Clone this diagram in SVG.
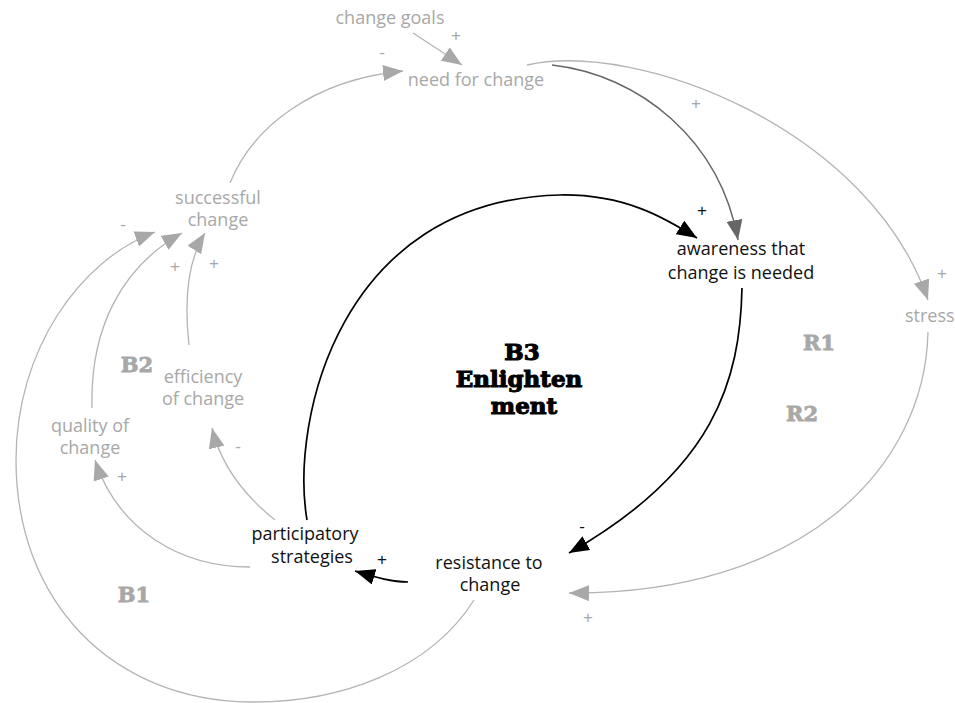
<svg xmlns="http://www.w3.org/2000/svg" width="955" height="703" viewBox="0 0 955 703">
<defs>
<style>
.t{font-family:"Open Sans","Noto Sans","Liberation Sans",sans-serif;font-size:18px;text-anchor:middle}
.g{fill:#a8a8a8}
.k{fill:#111}
.pol{font-family:"Liberation Sans","Open Sans",sans-serif;font-size:17px;text-anchor:middle}
.loop{font-family:"DejaVu Serif","Liberation Serif",serif;font-weight:bold;font-size:21px;text-anchor:middle;fill:#a8a8a8;stroke:#a8a8a8;stroke-width:0.8}
.b3{font-family:"DejaVu Serif","Liberation Serif",serif;font-weight:bold;font-size:23px;text-anchor:middle;fill:#000;stroke:#000;stroke-width:1.1}
.lg{fill:none;stroke:#b4b4b4;stroke-width:1.3}
.ld{fill:none;stroke:#666;stroke-width:1.5}
.lk{fill:none;stroke:#000;stroke-width:1.7}
</style>
<marker id="ag" markerUnits="userSpaceOnUse" markerWidth="22" markerHeight="16" refX="20" refY="8" orient="auto"><path d="M0,0 L20,8 L0,16 z" fill="#a8a8a8"/></marker>
<marker id="ad" markerUnits="userSpaceOnUse" markerWidth="22" markerHeight="16" refX="20" refY="8" orient="auto"><path d="M0,0 L20,8 L0,16 z" fill="#666"/></marker>
<marker id="ak" markerUnits="userSpaceOnUse" markerWidth="22" markerHeight="16" refX="20" refY="8" orient="auto"><path d="M0,0 L20,8 L0,16 z" fill="#000"/></marker>
</defs>
<rect width="955" height="703" fill="#fff"/>

<g id="connectors">
<path class="lg" d="M413,33 L462,65" marker-end="url(#ag)"/>
<path class="lg" d="M230,183 C252,128 312,80 403,71" marker-end="url(#ag)"/>
<path class="ld" d="M552,65 C640,75 720,140 738,240" marker-end="url(#ad)"/>
<path class="lg" d="M527,65 C640,40 870,130 928,300" marker-end="url(#ag)"/>
<path class="lg" d="M928,332 C925,470 800,595 569,593" marker-end="url(#ag)"/>
<path class="lk" d="M742,288 C740,380 715,470 569,553" marker-end="url(#ak)"/>
<path class="lk" d="M408,582 C392,582 378,578 355,571" marker-end="url(#ak)"/>
<path class="lk" d="M307,520 C290,420 340,200 560,195 C625,194 665,218 697,238" marker-end="url(#ak)"/>
<path class="lg" d="M250,567 C180,567 118,530 95,460" marker-end="url(#ag)"/>
<path class="lg" d="M275,520 C250,500 222,470 212,428" marker-end="url(#ag)"/>
<path class="lg" d="M474,600 C430,670 340,703 250,702 C110,700 16,600 16,460 C16,350 80,260 155,232" marker-end="url(#ag)"/>
<path class="lg" d="M92,408 C90,330 120,268 182,233" marker-end="url(#ag)"/>
<path class="lg" d="M189,345 C184,300 188,260 205,233" marker-end="url(#ag)"/>
</g>

<g id="polarities">
<text class="pol g" x="456" y="41">+</text>
<text class="pol g" x="382" y="58">-</text>
<text class="pol g" x="696" y="109">+</text>
<text class="pol k" x="702" y="216">+</text>
<text class="pol g" x="942" y="279">+</text>
<text class="pol k" x="582" y="532">-</text>
<text class="pol g" x="588" y="623">+</text>
<text class="pol k" x="382" y="565">+</text>
<text class="pol g" x="238" y="452">-</text>
<text class="pol g" x="122" y="482">+</text>
<text class="pol g" x="123" y="230">-</text>
<text class="pol g" x="175" y="272">+</text>
<text class="pol g" x="214" y="269">+</text>
</g>

<g id="change-goals"><text class="t g" x="390" y="24">change goals</text></g>
<g id="need-for-change"><text class="t g" x="476" y="86">need for change</text></g>
<g id="successful-change"><text class="t g" x="218" y="204">successful</text><text class="t g" x="218" y="226">change</text></g>
<g id="awareness"><text class="t k" x="741" y="255">awareness that</text><text class="t k" x="741" y="279">change is needed</text></g>
<g id="stress"><text class="t g" x="905" y="322" style="text-anchor:start">stress</text></g>
<g id="efficiency-of-change"><text class="t g" x="203" y="383">efficiency</text><text class="t g" x="203" y="405">of change</text></g>
<g id="quality-of-change"><text class="t g" x="90" y="432">quality of</text><text class="t g" x="90" y="454">change</text></g>
<g id="participatory-strategies"><text class="t k" x="305" y="540">participatory</text><text class="t k" x="312" y="563">strategies</text></g>
<g id="resistance-to-change"><text class="t k" x="489" y="569">resistance to</text><text class="t k" x="490" y="591">change</text></g>

<g id="loop-labels">
<text class="loop" x="819" y="350">R1</text>
<text class="loop" x="802" y="421">R2</text>
<text class="loop" x="137" y="372">B2</text>
<text class="loop" x="134" y="602">B1</text>
<text class="b3" x="522" y="360">B3</text>
<text class="b3" x="519" y="387">Enlighten</text>
<text class="b3" x="524" y="414">ment</text>
</g>
</svg>
